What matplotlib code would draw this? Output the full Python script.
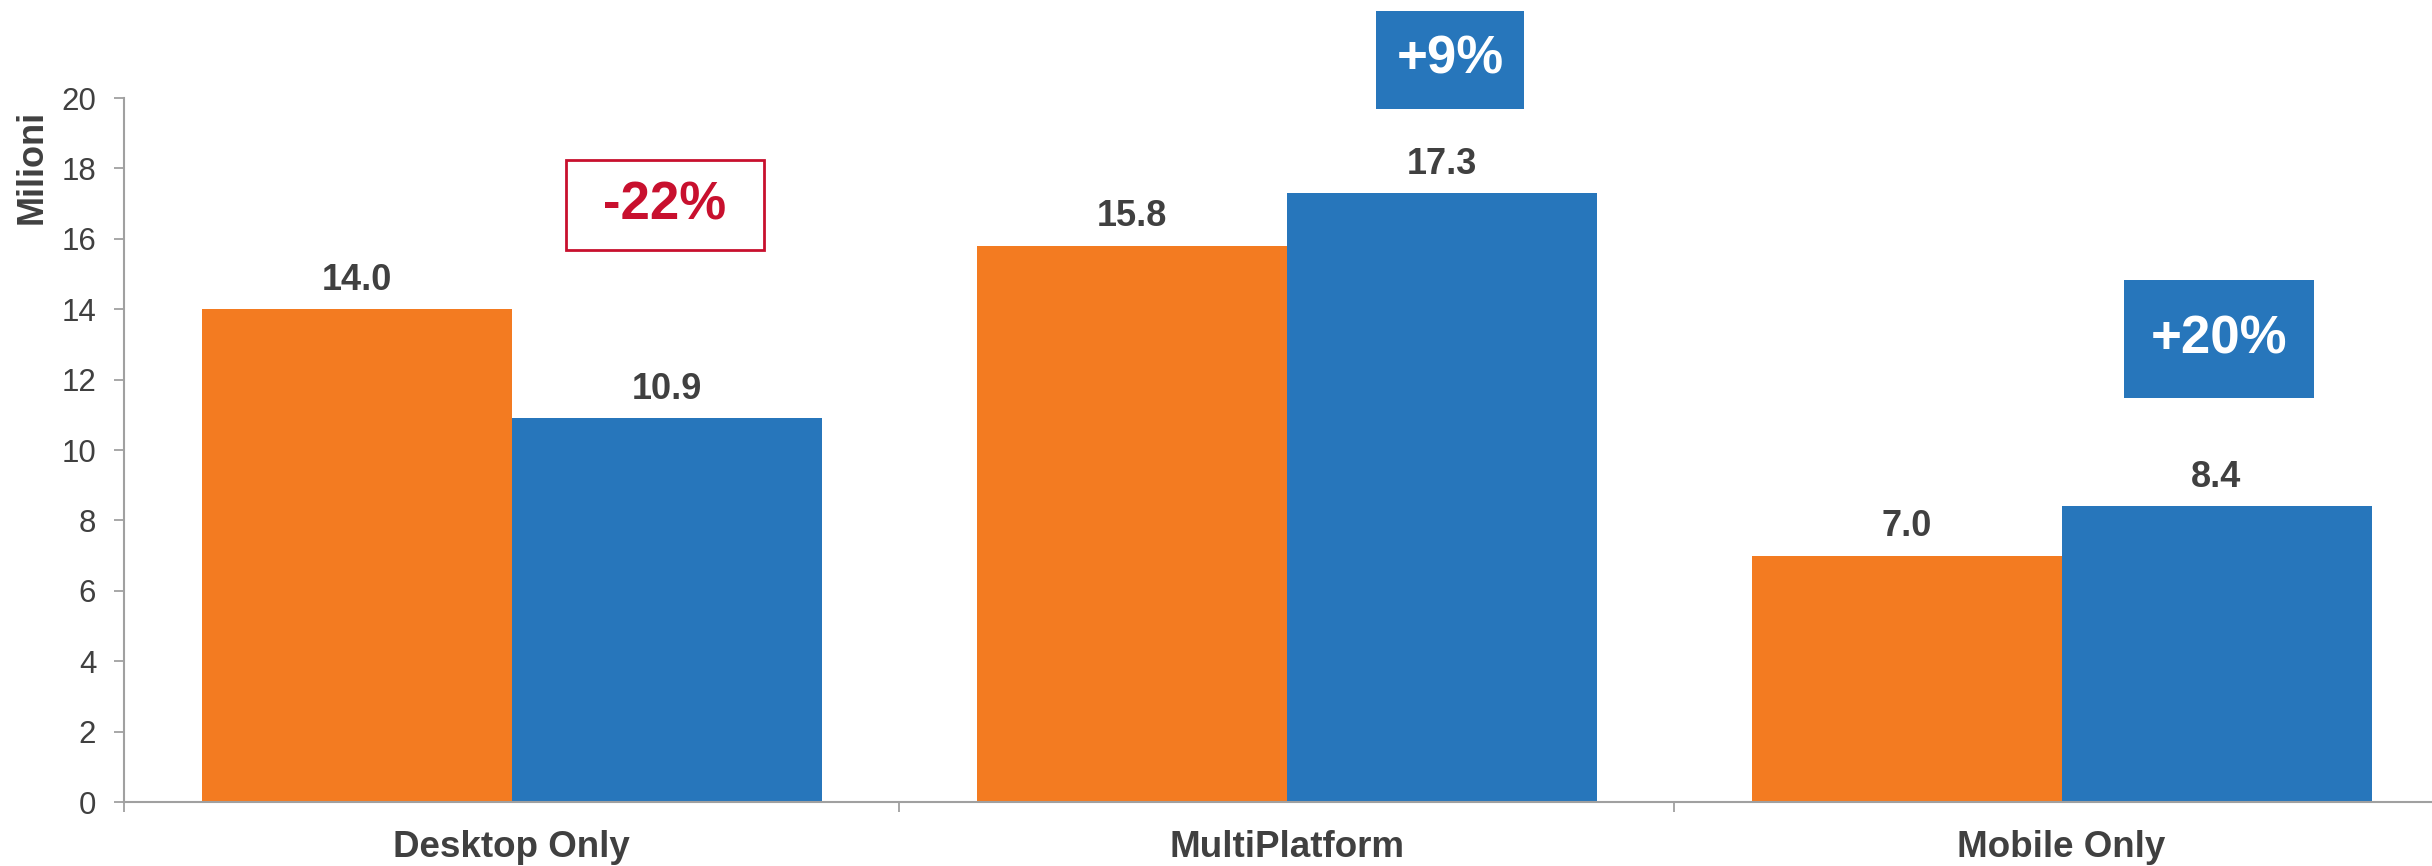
import matplotlib.pyplot as plt
from matplotlib.patches import Rectangle
from matplotlib.ticker import FixedLocator

plt.rcParams['font.family'] = ['Liberation Sans', 'DejaVu Sans']

categories = ['Desktop Only', 'MultiPlatform', 'Mobile Only']
before = [14.0, 15.8, 7.0]
after = [10.9, 17.3, 8.4]
changes = ['-22%', '+9%', '+20%']
y_ticks = [0, 2, 4, 6, 8, 10, 12, 14, 16, 18, 20]

ORANGE = '#F37B21'
BLUE = '#2776BB'
RED = '#C8102E'
DARK = '#404040'
GREY = '#A0A0A0'

fig = plt.figure(figsize=(24.32, 8.66), dpi=100)
ax = fig.add_axes([124 / 2432, 64 / 866, 1 - 124 / 2432, 704 / 866])

x = list(range(len(categories)))
w = 0.4
ax.bar([i - w / 2 for i in x], before, width=w, color=ORANGE, zorder=2)
ax.bar([i + w / 2 for i in x], after, width=w, color=BLUE, zorder=2)

# value labels above bars
for i in x:
    for xi, v in ((i - w / 2, before[i]), (i + w / 2, after[i])):
        ax.annotate(f'{v:.1f}', (xi, v), xytext=(0, 14), textcoords='offset points',
                    ha='center', va='baseline', fontsize=26, fontweight='bold', color=DARK)

# change boxes: (x offset from group, y centre, width, height, filled)
box_style = [(0.198, 16.96, 0.255, 2.56, False),
             (0.211, 21.08, 0.190, 2.78, True),
             (0.203, 13.15, 0.245, 3.35, True)]
for i, (dx, yc, bw, bh, filled) in enumerate(box_style):
    cx = i + dx
    if filled:
        r = Rectangle((cx - bw / 2, yc - bh / 2), bw, bh, facecolor=BLUE,
                      edgecolor='none', clip_on=False, zorder=3)
        tc = 'white'
    else:
        r = Rectangle((cx - bw / 2, yc - bh / 2), bw, bh, facecolor='white',
                      edgecolor=RED, linewidth=2, clip_on=False, zorder=3)
        tc = RED
    ax.add_patch(r)
    ax.text(cx, yc, changes[i], ha='center', va='center', fontsize=38,
            fontweight='bold', color=tc, zorder=4, clip_on=False)

ax.set_xlim(-0.5, -0.5 + (2432 - 124) / 775)
ax.set_ylim(0, 20)
ax.set_yticks(y_ticks)
ax.set_xticks(x)
ax.set_xticklabels(categories, fontsize=26.5, fontweight='bold', color=DARK)
ax.xaxis.set_minor_locator(FixedLocator([-0.5, 0.5, 1.5]))

ax.tick_params(axis='x', which='major', length=0, pad=20)
ax.tick_params(axis='x', which='minor', length=7, width=1.3, color=GREY, direction='out')
ax.tick_params(axis='y', length=7, width=1.3, color=GREY, pad=13,
               labelsize=22.5, labelcolor=DARK)

for s in ('top', 'right'):
    ax.spines[s].set_visible(False)
for s in ('left', 'bottom'):
    ax.spines[s].set_color(GREY)
    ax.spines[s].set_linewidth(1.5)

fig.text(32 / 2432, 1 - 167 / 866, 'Milioni', rotation=90, ha='center', va='center',
         fontsize=26, fontweight='bold', color=DARK)

fig.savefig('out.png', dpi=100)
